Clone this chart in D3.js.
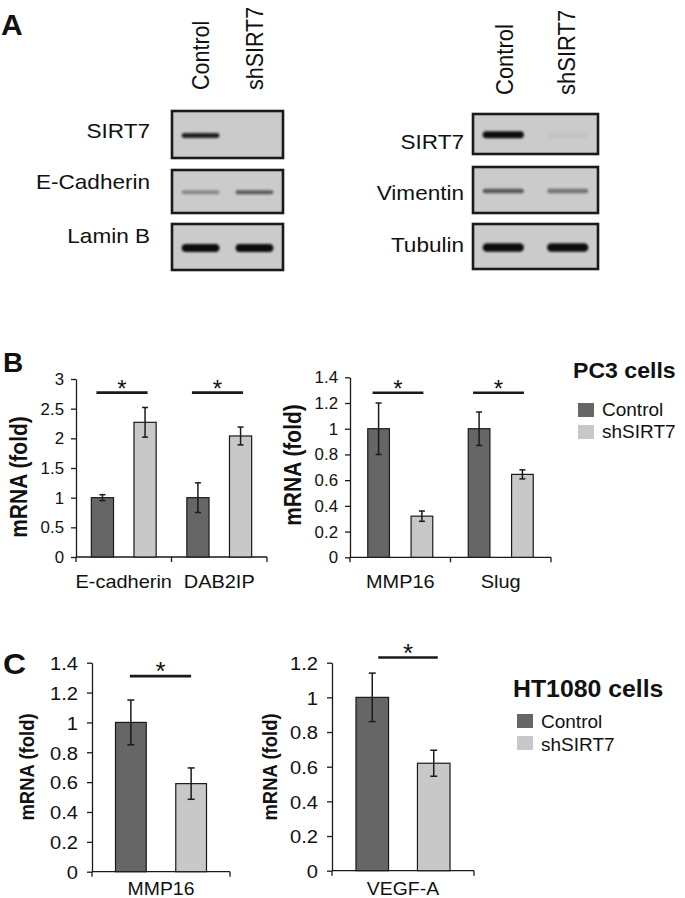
<!DOCTYPE html>
<html>
<head>
<meta charset="utf-8">
<script src="https://cdn.jsdelivr.net/npm/d3@7"></script>
<style>
  html, body { margin: 0; padding: 0; background: #fff; }
  svg { display: block; }
</style>
</head>
<body>
<svg id="fig" width="685" height="898"></svg>
<script>
// ---------------- DATA ----------------
const groups = ['Control', 'shSIRT7'];

// Panel A (western blots): relative band intensities
const blotLanes = ['Control', 'shSIRT7'];
const blotLeftRows = ['SIRT7', 'E-Cadherin', 'Lamin B'];
const blotLeftCtrl = [0.9, 0.35, 1.0];
const blotLeftSh = [0.0, 0.6, 1.0];
const blotRightRows = ['SIRT7', 'Vimentin', 'Tubulin'];
const blotRightCtrl = [1.0, 0.6, 1.0];
const blotRightSh = [0.03, 0.45, 1.0];

// Panel B, PC3 cells
const bLeftCats = ['E-cadherin', 'DAB2IP'];
const bLeftCtrl = [1.00, 1.00];
const bLeftCtrlErr = [0.05, 0.25];
const bLeftSh = [2.27, 2.04];
const bLeftShErr = [0.25, 0.15];
const bLeftSig = [2.77, 2.77];
const bLeftTicks = [0, 0.5, 1, 1.5, 2, 2.5, 3];

const bRightCats = ['MMP16', 'Slug'];
const bRightCtrl = [1.00, 1.00];
const bRightCtrlErr = [0.20, 0.13];
const bRightSh = [0.32, 0.645];
const bRightShErr = [0.04, 0.035];
const bRightSig = [1.28, 1.28];
const bRightTicks = [0, 0.2, 0.4, 0.6, 0.8, 1, 1.2, 1.4];

// Panel C, HT1080 cells
const cLeftCats = ['MMP16'];
const cLeftCtrl = [1.00];
const cLeftCtrlErr = [0.15];
const cLeftSh = [0.59];
const cLeftShErr = [0.105];
const cLeftSig = [1.31];
const cLeftTicks = [0, 0.2, 0.4, 0.6, 0.8, 1, 1.2, 1.4];

const cRightCats = ['VEGF-A'];
const cRightCtrl = [1.00];
const cRightCtrlErr = [0.14];
const cRightSh = [0.62];
const cRightShErr = [0.075];
const cRightSig = [1.23];
const cRightTicks = [0, 0.2, 0.4, 0.6, 0.8, 1, 1.2];

// ---------------- STYLE ----------------
const FONT = "'Liberation Sans', Arial, Helvetica, sans-serif";
const color = d3.scaleOrdinal().domain(groups).range(['#666666', '#c8c8c8']);
const INK = '#1a1a1a';

const svg = d3.select('#fig');

function txt(g, str, x, y, o) {
  const sx = o.sx || 1, rot = o.rot || 0;
  return g.append('text')
    .attr('transform', `translate(${x},${y}) scale(${sx},1) rotate(${rot})`)
    .attr('font-family', FONT)
    .attr('font-size', o.size)
    .attr('font-weight', o.weight || 'normal')
    .attr('text-anchor', o.anchor || 'start')
    .attr('dominant-baseline', o.baseline || 'auto')
    .attr('fill', o.fill || '#111')
    .text(str);
}

// blur filter for blot bands
const defs = svg.append('defs');
defs.append('filter').attr('id', 'blur').attr('x', '-20%').attr('y', '-100%')
  .attr('width', '140%').attr('height', '300%')
  .append('feGaussianBlur').attr('stdDeviation', 1.1);

// ---------------- PANEL LETTERS ----------------
txt(svg, 'A', 1, 35, { size: 30, weight: 'bold' });
txt(svg, 'B', 3, 372, { size: 28, weight: 'bold' });
txt(svg, 'C', 3, 674, { size: 29, weight: 'bold', sx: 1.1 });

// ---------------- PANEL A ----------------
function drawBlot(o) {
  const g = svg.append('g');
  const lane = d3.scaleBand().domain(blotLanes).range([o.x0, o.x1])
    .paddingInner(o.pi).paddingOuter(o.po);
  blotLanes.forEach((l, i) => {
    txt(g, l, o.laneX[i], o.laneY, { size: o.laneFont, rot: -90, sx: 1.12 });
  });
  o.rows.forEach((r, i) => {
    const top = o.tops[i], h = o.heights[i];
    g.append('rect').attr('x', o.x0).attr('y', top)
      .attr('width', o.x1 - o.x0).attr('height', h)
      .attr('fill', '#cbcbcb').attr('stroke', INK).attr('stroke-width', 2.6);
    const cy = top + h * 0.52;
    [o.ctrl[i], o.sh[i]].forEach((v, j) => {
      if (v <= 0) return;
      const th = o.thick[i];
      g.append('rect')
        .attr('x', lane(blotLanes[j])).attr('y', cy - th / 2)
        .attr('width', lane.bandwidth()).attr('height', th)
        .attr('rx', th / 2).attr('ry', th / 2)
        .attr('fill', '#111').attr('opacity', v)
        .attr('filter', 'url(#blur)');
    });
    txt(g, r, o.labelX, o.labelY[i], { size: 20.5, anchor: 'end', sx: 1.1 });
  });
}

drawBlot({
  x0: 172, x1: 283, pi: 0.3, po: 0.18,
  rows: blotLeftRows, ctrl: blotLeftCtrl, sh: blotLeftSh,
  tops: [111, 170, 224], heights: [47, 43, 46], thick: [5, 4, 8],
  labelX: 150, labelY: [138, 189, 243],
  laneX: [209, 263], laneY: 90, laneFont: 21.5
});
drawBlot({
  x0: 473, x1: 598, pi: 0.36, po: 0.15,
  rows: blotRightRows, ctrl: blotRightCtrl, sh: blotRightSh,
  tops: [114, 167, 224], heights: [40, 46, 45], thick: [7, 4.5, 8.5],
  labelX: 464, labelY: [149, 200, 252],
  laneX: [513, 575], laneY: 95, laneFont: 22
});

// ---------------- BAR CHARTS ----------------
function drawChart(o) {
  const g = svg.append('g');
  const y = d3.scaleLinear().domain([0, o.yMax]).range([o.yBottom, o.yTop]);
  const x = d3.scaleBand().domain(o.cats).range([o.x0, o.x1]);
  const xi = d3.scaleBand().domain(groups).range([0, x.bandwidth()])
    .paddingInner(o.pi).paddingOuter(o.po);

  // y axis
  const ya = g.append('g').attr('transform', `translate(${o.x0},0)`)
    .call(d3.axisLeft(y).tickValues(o.ticks).tickFormat(d => String(d))
      .tickSize(5).tickSizeOuter(0).tickPadding(0));
  ya.select('.domain').attr('stroke', INK).attr('stroke-width', 1.3);
  ya.selectAll('.tick line').attr('stroke', INK).attr('stroke-width', 1.3);
  ya.selectAll('.tick text')
    .attr('x', null).attr('dy', null)
    .attr('transform', `translate(${-o.tickGap},0) scale(${o.tickSx},1)`)
    .attr('dominant-baseline', 'central')
    .attr('font-family', FONT).attr('font-size', o.tickFont).attr('fill', '#111');

  // x axis line + boundary ticks
  g.append('line').attr('x1', o.x0).attr('x2', o.x1)
    .attr('y1', o.yBottom).attr('y2', o.yBottom)
    .attr('stroke', INK).attr('stroke-width', 1.3);
  const bounds = o.cats.map(c => x(c)).concat([o.x1]);
  g.selectAll('.xt').data(bounds).enter().append('line')
    .attr('x1', d => d).attr('x2', d => d)
    .attr('y1', o.yBottom).attr('y2', o.yBottom + 5)
    .attr('stroke', INK).attr('stroke-width', 1.3);

  // bars & errors
  o.cats.forEach((c, i) => {
    const vals = [o.ctrl[i], o.sh[i]], errs = [o.ctrlErr[i], o.shErr[i]];
    groups.forEach((gr, j) => {
      const bx = x(c) + xi(gr), bw = xi.bandwidth();
      g.append('rect').attr('x', bx).attr('y', y(vals[j]))
        .attr('width', bw).attr('height', y(0) - y(vals[j]))
        .attr('fill', color(gr)).attr('stroke', INK).attr('stroke-width', 1.2);
      const cx = bx + bw / 2;
      const yt = y(vals[j] + errs[j]), yb = y(vals[j] - errs[j]);
      g.append('line').attr('x1', cx).attr('x2', cx).attr('y1', yt).attr('y2', yb)
        .attr('stroke', INK).attr('stroke-width', 1.5);
      [yt, yb].forEach(yy => g.append('line')
        .attr('x1', cx - o.cap).attr('x2', cx + o.cap).attr('y1', yy).attr('y2', yy)
        .attr('stroke', INK).attr('stroke-width', 1.5));
    });
    // significance bar
    const c1 = x(c) + xi('Control') + xi.bandwidth() / 2 + o.sigOff[0];
    const c2 = x(c) + xi('shSIRT7') + xi.bandwidth() / 2 + o.sigOff[1];
    const sy = y(o.sig[i]);
    g.append('line').attr('x1', c1).attr('x2', c2).attr('y1', sy).attr('y2', sy)
      .attr('stroke', INK).attr('stroke-width', 2.6);
    txt(g, '*', (c1 + c2) / 2, sy + 4, { size: o.starFont, anchor: 'middle' });
    // category label
    txt(g, c, x(c) + x.bandwidth() / 2, o.labelY, { size: o.labelFont, anchor: 'middle', sx: o.labelSx });
  });

  // y title
  txt(g, 'mRNA (fold)', o.titleX, o.titleY, {
    size: o.titleFont, weight: 'bold', anchor: 'middle', rot: -90, baseline: 'central', sx: 1.1
  });
}

drawChart({
  cats: bLeftCats, ctrl: bLeftCtrl, ctrlErr: bLeftCtrlErr, sh: bLeftSh, shErr: bLeftShErr,
  sig: bLeftSig, ticks: bLeftTicks, yMax: 3,
  x0: 76, x1: 267, yBottom: 557, yTop: 379, pi: 0.48, po: 0.36,
  tickGap: 12, tickFont: 16.5, tickSx: 1.02, cap: 3,
  labelY: 588, labelFont: 19, labelSx: 1.05, sigOff: [-6, 2.5], starFont: 24,
  titleX: 19, titleY: 477, titleFont: 21
});
drawChart({
  cats: bRightCats, ctrl: bRightCtrl, ctrlErr: bRightCtrlErr, sh: bRightSh, shErr: bRightShErr,
  sig: bRightSig, ticks: bRightTicks, yMax: 1.4,
  x0: 350, x1: 551, yBottom: 557.3, yTop: 377.3, pi: 0.5, po: 0.41,
  tickGap: 12, tickFont: 16.5, tickSx: 1.02, cap: 3,
  labelY: 588, labelFont: 19, labelSx: 1.05, sigOff: [-6, 1.5], starFont: 24,
  titleX: 293, titleY: 465, titleFont: 21
});
drawChart({
  cats: cLeftCats, ctrl: cLeftCtrl, ctrlErr: cLeftCtrlErr, sh: cLeftSh, shErr: cLeftShErr,
  sig: cLeftSig, ticks: cLeftTicks, yMax: 1.4,
  x0: 92, x1: 230, yBottom: 871.7, yTop: 662.7, pi: 0.49, po: 0.39,
  tickGap: 14, tickFont: 19, tickSx: 1.06, cap: 3.5,
  labelY: 895, labelFont: 18.5, labelSx: 1.05, sigOff: [-1, 0], starFont: 26,
  titleX: 27, titleY: 767, titleFont: 18.5
});
drawChart({
  cats: cRightCats, ctrl: cRightCtrl, ctrlErr: cRightCtrlErr, sh: cRightSh, shErr: cRightShErr,
  sig: cRightSig, ticks: cRightTicks, yMax: 1.2,
  x0: 332, x1: 474, yBottom: 870.7, yTop: 662.7, pi: 0.47, po: 0.39,
  tickGap: 14, tickFont: 19, tickSx: 1.06, cap: 3.5,
  labelY: 895, labelFont: 18.5, labelSx: 1.05, sigOff: [6, 4], starFont: 26,
  titleX: 270, titleY: 767, titleFont: 18.5
});

// ---------------- LEGENDS ----------------
function drawLegend(o) {
  const g = svg.append('g');
  txt(g, o.title, o.titleX, o.titleY, { size: o.titleFont, weight: 'bold', sx: o.titleSx });
  groups.forEach((gr, i) => {
    g.append('rect').attr('x', o.sqX).attr('y', o.sqY[i]).attr('width', 16).attr('height', 14)
      .attr('fill', color(gr));
    txt(g, gr, o.textX, o.textY[i], { size: 19 });
  });
}
drawLegend({ title: 'PC3 cells', titleX: 573, titleY: 378, titleFont: 22, titleSx: 1.05,
  sqX: 578, sqY: [403, 425], textX: 602, textY: [416, 438] });
drawLegend({ title: 'HT1080 cells', titleX: 513, titleY: 697, titleFont: 23, titleSx: 1.08,
  sqX: 517, sqY: [714, 736], textX: 541, textY: [728, 751] });
</script>
</body>
</html>
